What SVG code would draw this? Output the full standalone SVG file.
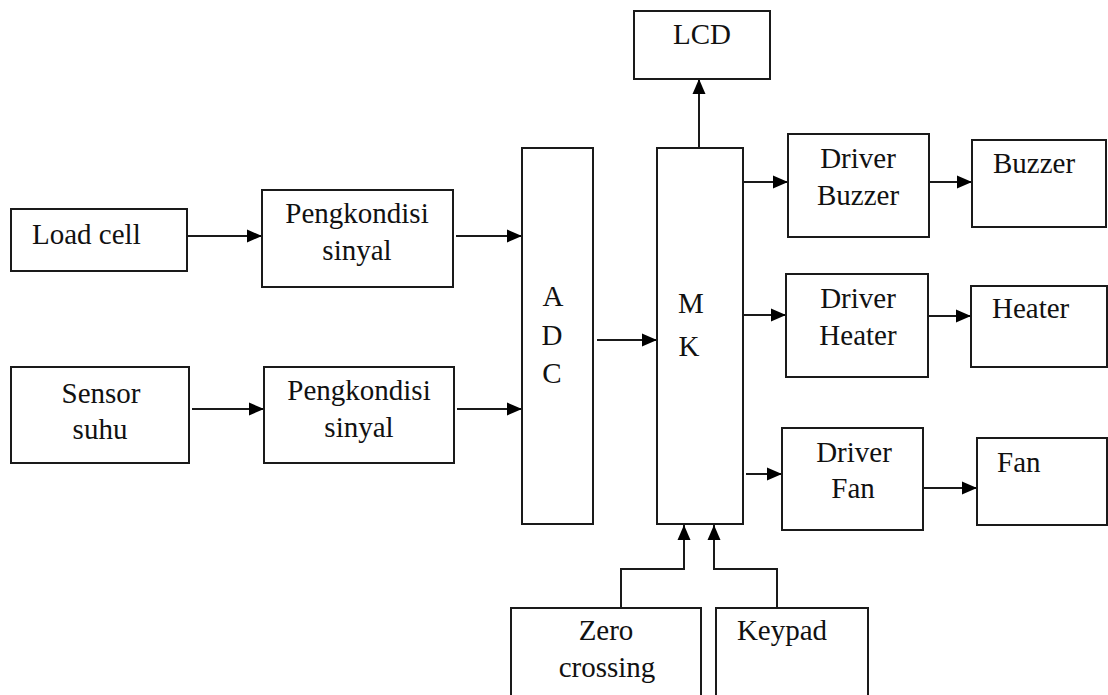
<svg xmlns="http://www.w3.org/2000/svg" width="1108" height="695" viewBox="0 0 1108 695">
  <defs>
    <marker id="arr" markerUnits="userSpaceOnUse" markerWidth="16" markerHeight="14" refX="15" refY="7" orient="auto">
      <path d="M0,0.5 L15,7 L0,13.5 Z" fill="#000"/>
    </marker>
    <style>
      .box { fill: #fff; stroke: #1a1a1a; stroke-width: 2; }
      text { font-family: 'Liberation Serif', 'DejaVu Serif', serif; font-size: 29px; fill: #111; }
      .mid { text-anchor: middle; }
      .conn { fill: none; stroke: #1a1a1a; stroke-width: 2; marker-end: url(#arr); }
    </style>
  </defs>
  <rect width="1108" height="695" fill="#fff"/>

  <g id="connectors">
    <path class="conn" d="M187,236 H262"/>
    <path class="conn" d="M192,409 H264"/>
    <path class="conn" d="M456,236 H522"/>
    <path class="conn" d="M457,409 H522"/>
    <path class="conn" d="M597,340 H657"/>
    <path class="conn" d="M699,148 V79"/>
    <path class="conn" d="M743,182 H788"/>
    <path class="conn" d="M743,315 H786"/>
    <path class="conn" d="M746,474 H782"/>
    <path class="conn" d="M929,182 H972"/>
    <path class="conn" d="M925,316 H971"/>
    <path class="conn" d="M923,488 H977"/>
    <path class="conn" d="M621,608 V569 H684 V525"/>
    <path class="conn" d="M777,608 V569 H714 V525"/>
  </g>

  <g id="load-cell">
    <rect class="box" x="11" y="209" width="176" height="62"/>
    <text x="32" y="244">Load cell</text>
  </g>
  <g id="pengkondisi-1">
    <rect class="box" x="262" y="190" width="191" height="97"/>
    <text class="mid" x="357" y="223">Pengkondisi</text>
    <text class="mid" x="357" y="260">sinyal</text>
  </g>
  <g id="sensor-suhu">
    <rect class="box" x="11" y="367" width="178" height="96"/>
    <text class="mid" x="101" y="403">Sensor</text>
    <text class="mid" x="100" y="439">suhu</text>
  </g>
  <g id="pengkondisi-2">
    <rect class="box" x="264" y="367" width="190" height="96"/>
    <text class="mid" x="359" y="400">Pengkondisi</text>
    <text class="mid" x="359" y="437">sinyal</text>
  </g>
  <g id="adc">
    <rect class="box" x="522" y="148" width="71" height="376"/>
    <text class="mid" x="553" y="306">A</text>
    <text class="mid" x="552" y="345">D</text>
    <text class="mid" x="552" y="383">C</text>
  </g>
  <g id="mk">
    <rect class="box" x="657" y="148" width="86" height="376"/>
    <text class="mid" x="691" y="313">M</text>
    <text class="mid" x="689" y="356">K</text>
  </g>
  <g id="lcd">
    <rect class="box" x="634" y="11" width="136" height="68"/>
    <text class="mid" x="702" y="44">LCD</text>
  </g>
  <g id="driver-buzzer">
    <rect class="box" x="788" y="134" width="141" height="103"/>
    <text class="mid" x="858" y="168">Driver</text>
    <text class="mid" x="858" y="205">Buzzer</text>
  </g>
  <g id="buzzer">
    <rect class="box" x="972" y="140" width="134" height="87"/>
    <text x="993" y="173">Buzzer</text>
  </g>
  <g id="driver-heater">
    <rect class="box" x="786" y="274" width="142" height="103"/>
    <text class="mid" x="858" y="308">Driver</text>
    <text class="mid" x="858" y="345">Heater</text>
  </g>
  <g id="heater">
    <rect class="box" x="971" y="286" width="136" height="81"/>
    <text x="992" y="318">Heater</text>
  </g>
  <g id="driver-fan">
    <rect class="box" x="782" y="428" width="141" height="102"/>
    <text class="mid" x="854" y="462">Driver</text>
    <text class="mid" x="853" y="498">Fan</text>
  </g>
  <g id="fan">
    <rect class="box" x="977" y="438" width="130" height="87"/>
    <text x="997" y="472">Fan</text>
  </g>
  <g id="zero-crossing">
    <rect class="box" x="511" y="608" width="190" height="100"/>
    <text class="mid" x="606" y="640">Zero</text>
    <text class="mid" x="607" y="677">crossing</text>
  </g>
  <g id="keypad">
    <rect class="box" x="716" y="608" width="152" height="100"/>
    <text class="mid" x="782" y="640">Keypad</text>
  </g>
</svg>
